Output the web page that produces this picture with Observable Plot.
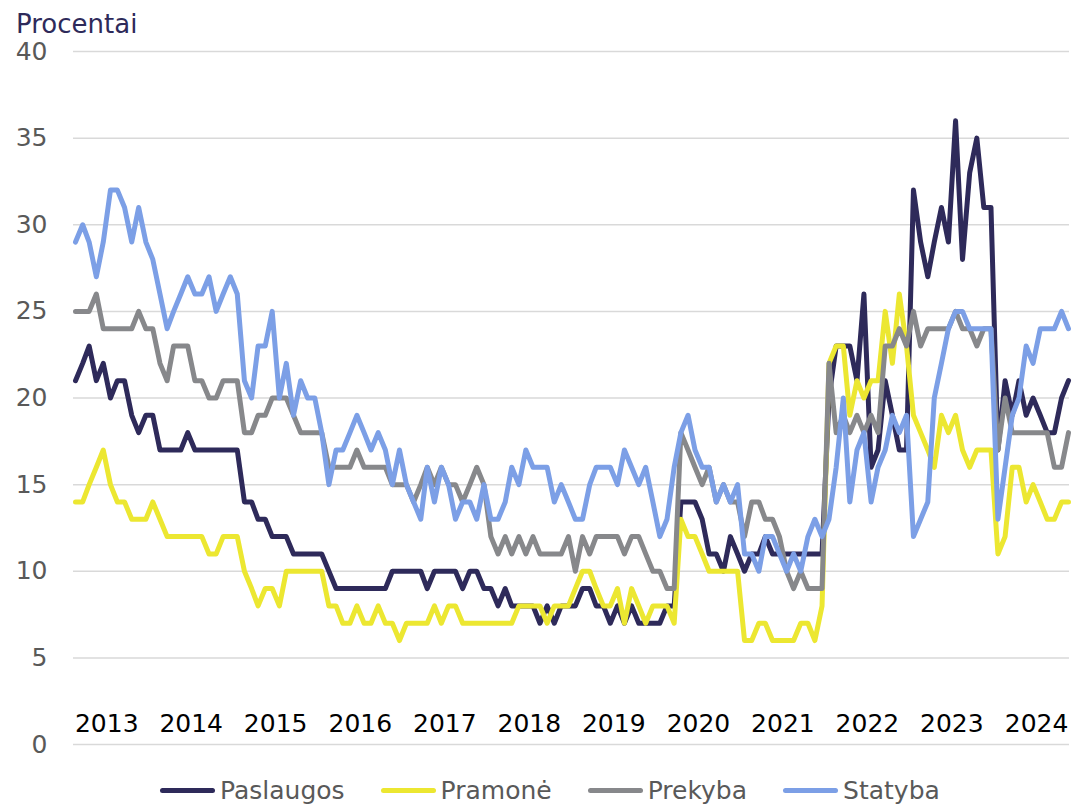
<!DOCTYPE html>
<html>
<head>
<meta charset="utf-8">
<script src="https://cdn.jsdelivr.net/npm/d3@7"></script>
<script src="https://cdn.jsdelivr.net/npm/@observablehq/plot@0.6"></script>
<style>
  html, body { margin: 0; padding: 0; background: #fff; overflow: hidden; }
  #wrap { width: 1076px; height: 806px; position: relative; font-family: "DejaVu Sans", Verdana, sans-serif; }
  #title { height: 40px; position: relative; }
  #title span { position: absolute; left: 16px; top: 9px; font-size: 26px; color: #2e2a5a; line-height: normal; white-space: nowrap; }
  #chart svg { display: block; }
  #legend { height: 46px; position: relative; }
  #legend .row { position: absolute; left: 160px; top: -5px; height: 70px; display: flex; align-items: center; gap: 36px; }
  #legend .item { display: flex; align-items: center; }
  #legend .sw { width: 55px; height: 5px; border-radius: 3px; margin-right: 5px; }
  #legend .lb { font-size: 25px; color: #595959; line-height: normal; white-space: nowrap; }
</style>
</head>
<body>
<div id="wrap">
  <div id="title"><span>Procentai</span></div>
  <div id="chart"></div>
  <div id="legend"><div class="row"></div></div>
</div>
<script>
// ---- Data (monthly, Jan 2013 – Oct 2024) ----
const seriesNames = ["Paslaugos", "Pramonė", "Prekyba", "Statyba"];
const seriesColors = ["#2e2a5a", "#ece731", "#87888b", "#7c9fe6"];

const paslaugos = [
  21,22,23,21,22,20,21,21,19,18,19,19,
  17,17,17,17,18,17,17,17,17,17,17,17,
  14,14,13,13,12,12,12,11,11,11,11,11,
  10,9,9,9,9,9,9,9,9,10,10,10,
  10,10,9,10,10,10,10,9,10,10,9,9,
  8,9,8,8,8,8,7,8,7,8,8,8,
  9,9,8,8,7,8,7,8,7,7,7,7,
  8,8,14,14,14,13,11,11,10,12,11,10,
  11,11,12,11,11,11,11,11,11,11,11,20,
  23,23,23,21,26,16,17,21,19,17,17,32,
  29,27,29,31,29,36,28,33,35,31,31,17,
  21,19,21,19,20,19,18,18,20,21
];
const pramone = [
  14,14,15,16,17,15,14,14,13,13,13,14,
  13,12,12,12,12,12,12,11,11,12,12,12,
  10,9,8,9,9,8,10,10,10,10,10,10,
  8,8,7,7,8,7,7,8,7,7,6,7,
  7,7,7,8,7,8,8,7,7,7,7,7,
  7,7,7,8,8,8,8,7,8,8,8,9,
  10,10,9,8,8,9,7,9,8,7,8,8,
  8,7,13,12,12,11,10,10,10,10,10,6,
  6,7,7,6,6,6,6,7,7,6,8,22,
  23,23,19,21,20,21,21,25,22,26,23,19,
  18,17,16,19,18,19,17,16,17,17,17,11,
  12,16,16,14,15,14,13,13,14,14
];
const prekyba = [
  25,25,25,26,24,24,24,24,24,25,24,24,
  22,21,23,23,23,21,21,20,20,21,21,21,
  18,18,19,19,20,20,20,19,18,18,18,18,
  16,16,16,16,17,16,16,16,16,15,15,15,
  14,15,16,15,16,15,15,14,15,16,15,12,
  11,12,11,12,11,12,11,11,11,11,12,10,
  12,11,12,12,12,12,11,12,12,11,10,10,
  9,9,18,17,16,15,16,14,15,14,14,12,
  14,14,13,13,12,10,9,10,9,9,9,22,
  18,19,18,19,18,19,18,23,23,24,23,25,
  23,24,24,24,24,25,24,24,23,24,24,17,
  20,18,18,18,18,18,18,16,16,18
];
const statyba = [
  29,30,29,27,29,32,32,31,29,31,29,28,
  26,24,25,26,27,26,26,27,25,26,27,26,
  21,20,23,23,25,20,22,19,21,20,20,18,
  15,17,17,18,19,18,17,18,17,15,17,15,
  14,13,16,14,16,15,13,14,14,13,15,13,
  13,14,16,15,17,16,16,16,14,15,14,13,
  13,15,16,16,16,15,17,16,15,16,14,12,
  13,16,18,19,17,16,16,14,15,14,15,11,
  11,10,12,12,11,10,11,10,12,13,12,13,
  16,20,14,17,18,14,16,17,19,18,19,12,
  13,14,20,22,24,25,25,24,24,24,24,13,
  16,19,20,23,22,24,24,24,25,24
];

const yearLabels = [2013,2014,2015,2016,2017,2018,2019,2020,2021,2022,2023,2024];
const yTicks = [0,5,10,15,20,25,30,35,40];

// ---- Build table ----
const months = d3.utcMonth.range(new Date(Date.UTC(2013,0,1)), new Date(Date.UTC(2024,10,1)));
const allValues = [paslaugos, pramone, prekyba, statyba];
const rows = allValues.flatMap((vals, s) => vals.map((v, i) => ({date: months[i], series: seriesNames[s], value: v})));
const yearTickDates = yearLabels.map(y => new Date(Date.UTC(y, 4, 16)));

const chart = Plot.plot({
  width: 1076,
  height: 720,
  marginLeft: 73,
  marginRight: 7,
  marginTop: 11,
  marginBottom: 16,
  insetLeft: 2,
  insetRight: 1,
  style: {fontFamily: "'DejaVu Sans', Verdana, sans-serif", fontSize: "25px", overflow: "visible", background: "#fff"},
  x: {type: "utc", domain: [months[0], months[months.length - 1]]},
  y: {domain: [0, 40]},
  color: {domain: seriesNames, range: seriesColors},
  marks: [
    Plot.gridY(yTicks, {stroke: "#d9d9d9", strokeOpacity: 1, strokeWidth: 1.5}),
    Plot.axisY(yTicks, {tickSize: 0, tickPadding: 26, fill: "#595959", fontSize: 25, label: null}),
    Plot.axisX(yearTickDates, {tickSize: 0, tickPadding: 0, dy: -30, fill: "#000", fontSize: 25, label: null,
      tickFormat: d => String(d.getUTCFullYear())}),
    Plot.line(rows, {x: "date", y: "value", z: "series", stroke: "series", strokeWidth: 5,
      strokeLinejoin: "round", strokeLinecap: "round"})
  ]
});
document.getElementById("chart").appendChild(chart);

// ---- Legend ----
const row = document.querySelector("#legend .row");
seriesNames.forEach((name, i) => {
  const item = document.createElement("div");
  item.className = "item";
  const sw = document.createElement("div");
  sw.className = "sw";
  sw.style.background = seriesColors[i];
  const lb = document.createElement("span");
  lb.className = "lb";
  lb.textContent = name;
  item.appendChild(sw);
  item.appendChild(lb);
  row.appendChild(item);
});
</script>
</body>
</html>
